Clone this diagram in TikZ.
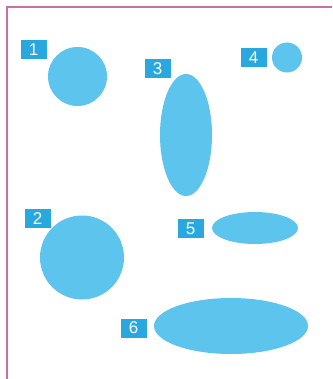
\documentclass[tikz,border=0pt]{standalone}
\usepackage{fontspec}
\setmainfont{Liberation Sans}
\usetikzlibrary{shapes.geometric}
\definecolor{blobblue}{HTML}{5DC4EE}
\definecolor{tagblue}{HTML}{29A8E0}
\definecolor{frame}{HTML}{C96FA3}
\begin{document}
\begin{tikzpicture}[x=1pt,y=-1pt,
  blob/.style={ellipse,fill=blobblue,draw=none,inner sep=0pt},
  tag/.style={fill=tagblue,text=white,minimum width=26pt,minimum height=19pt,inner sep=0pt,font=\fontsize{17}{17}\selectfont}]
\useasboundingbox (0,0) rectangle (332,379);
\fill[white] (0,0) rectangle (332,379);
\coordinate (fb) at (7,379);
\coordinate (fc) at (7,7);
\coordinate (fr) at (332,7);
\draw[frame,line width=2pt] (fb) -- (fc) -- (fr);
% shapes
\node[blob,minimum width=59pt,minimum height=59pt] (s1) at (77.5,76.5) {};
\node[blob,minimum width=84pt,minimum height=84pt] (s2) at (82,257.5) {};
\node[blob,minimum width=52pt,minimum height=122pt] (s3) at (186,135) {};
\node[blob,minimum width=30pt,minimum height=30pt] (s4) at (287,57.5) {};
\node[blob,minimum width=86pt,minimum height=32pt] (s5) at (255,228) {};
\node[blob,minimum width=154pt,minimum height=56pt] (s6) at (231,326) {};
% tags
\node[tag] (t1) at (33.5,49.5) {1};
\node[tag] (t2) at (37.5,218.5) {2};
\node[tag] (t3) at (157.5,69) {3};
\node[tag] (t4) at (253.5,58) {4};
\node[tag] (t5) at (190.5,228.5) {5};
\node[tag] (t6) at (133.5,328) {6};
\end{tikzpicture}
\end{document}
